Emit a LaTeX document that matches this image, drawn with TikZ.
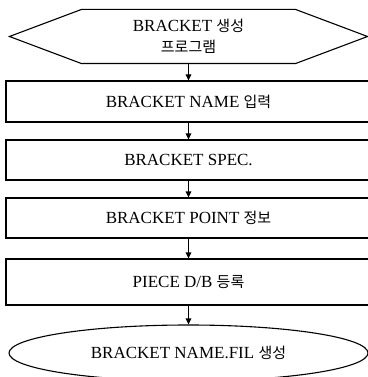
\documentclass[tikz,border=0pt]{standalone}
\usepackage{fontspec}
\setmainfont{Liberation Serif}
\newfontfamily\hanfont{Noto Sans CJK KR}
\newcommand{\hangul}[1]{{\hanfont\fontsize{15}{18}\selectfont #1}}
\usetikzlibrary{shapes.geometric,arrows.meta}
\tikzset{
  stepbox/.style={draw,minimum width=365pt,minimum height=41pt,inner sep=0pt},
  flowarrow/.style={-{Triangle[length=6pt,width=5.5pt]}},
}
\begin{document}
\begin{tikzpicture}[x=1pt,y=-1pt,font=\fontsize{17}{21}\selectfont,line width=1.1pt]
  \useasboundingbox (0,0) rectangle (367,377);
  % start
  \node[minimum width=357pt,minimum height=53pt,inner sep=0pt,align=center]
    (prog) at (188.5,36.5) {BRACKET \hangul{생성}\\\hangul{프로그램}};
  \draw (prog.west) -- ([xshift=72pt]prog.north west) -- ([xshift=-72pt]prog.north east)
    -- (prog.east) -- ([xshift=-72pt]prog.south east) -- ([xshift=72pt]prog.south west) -- cycle;
  % steps
  \node[stepbox] (name) at (188.5,101.5) {BRACKET NAME \hangul{입력}};
  \node[stepbox,minimum height=40pt] (spec) at (188.5,160) {BRACKET SPEC.};
  \node[stepbox,minimum height=40pt] (point) at (188.5,218) {BRACKET POINT \hangul{정보}};
  \node[stepbox,minimum height=46pt] (piece) at (188.5,282) {PIECE D/B \hangul{등록}};
  % end
  \node[draw,ellipse,minimum width=359pt,minimum height=56pt,inner sep=0pt]
    (fil) at (188.5,353) {BRACKET NAME.FIL \hangul{생성}};
  \draw[flowarrow] (prog) -- (name);
  \draw[flowarrow] (name) -- (spec);
  \draw[flowarrow] (spec) -- (point);
  \draw[flowarrow] (point) -- (piece);
  \draw[flowarrow] (piece) -- (fil);
\end{tikzpicture}
\end{document}
